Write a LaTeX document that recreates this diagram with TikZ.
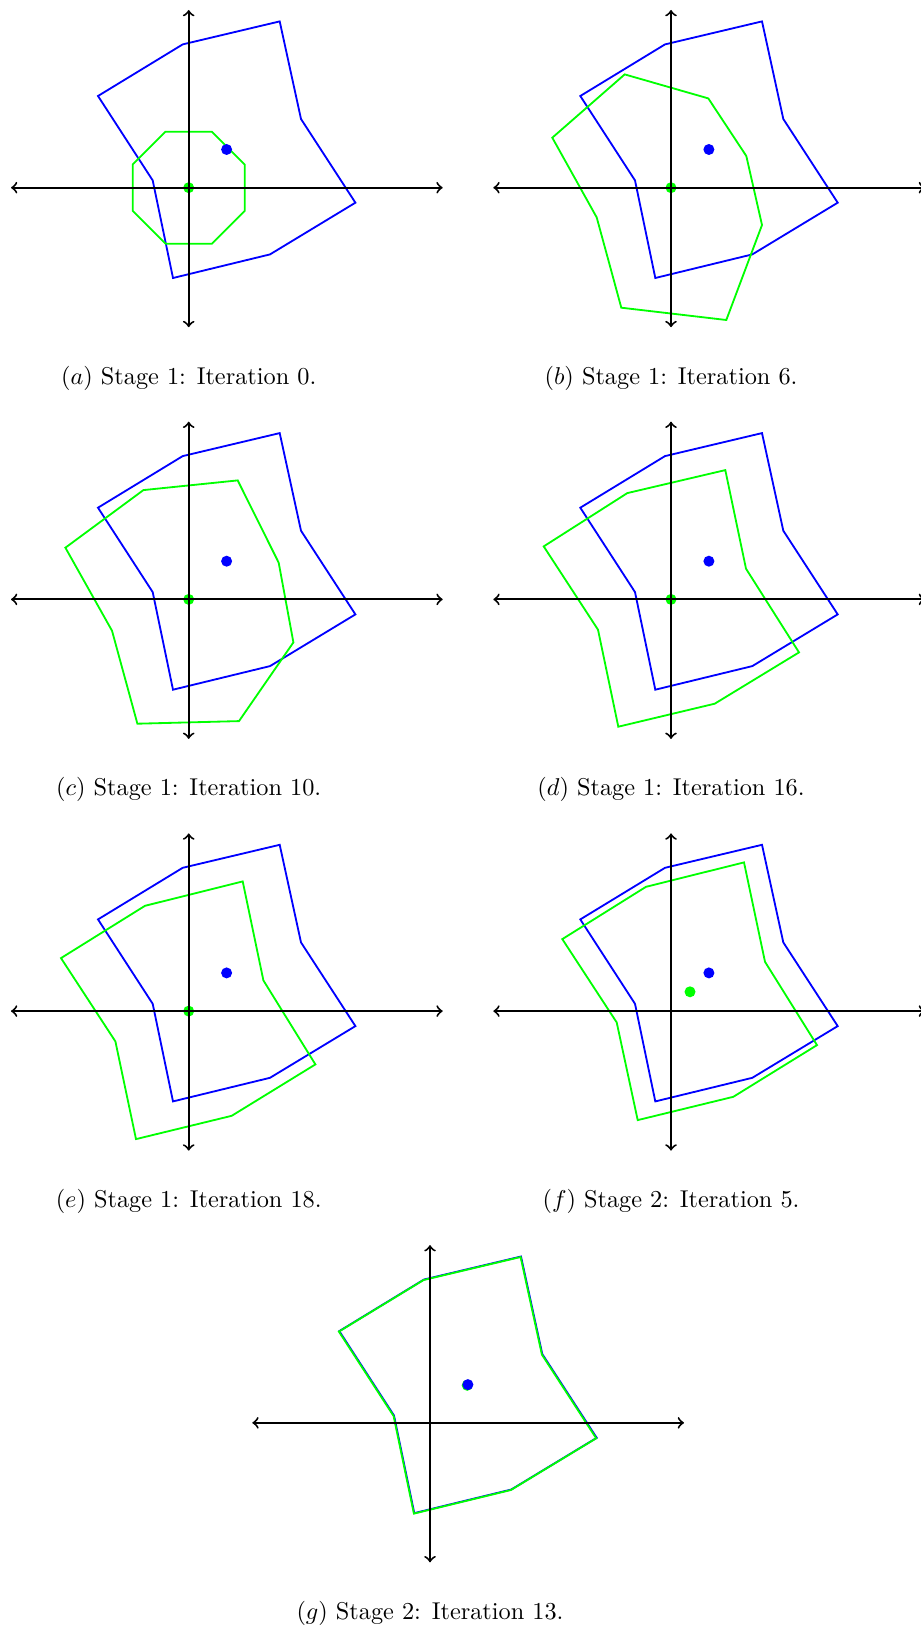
\documentclass[tikz,border=0pt]{standalone}
\newcommand\mypanel[6]{%
  \begin{scope}[shift={(#1,#2)}]
    \draw[bluepoly] (-6,-143.3) -- (91,-166.3) -- (112.3,-68.7) -- (166.7,15) -- (81.3,66.7) -- (-15.7,90.3) -- (-36,-7.3) -- (-90.7,-91.7) -- cycle;
    \draw[greenpoly] #3 -- cycle;
    \fill[green] #4 circle[radius=5.5];
    \fill[blue] (37.9,-38.2) circle[radius=5.5];
    \draw[axisline] (-177.7,0) -- (254,0);
    \draw[axisline] (0,-177.7) -- (0,139.5);
    \node[captext] (#5) at (0,196.3) {#6};
  \end{scope}}
\begin{document}
\begin{tikzpicture}[x=0.41152pt,y=-0.41152pt,
  axisline/.style={line width=0.8pt,<->},
  bluepoly/.style={blue,line width=0.75pt},
  greenpoly/.style={green,line width=0.75pt},
  captext/.style={anchor=base,font=\fontsize{10}{12}\selectfont,inner sep=0pt}]
\fill[white] (0,0) rectangle (920,1630);
\useasboundingbox (0,0) rectangle (920,1630);
% (a)
\mypanel{188.7}{187.7}{(23.2,-56) -- (56,-23.2) -- (56,23.2) -- (23.2,56) -- (-23.2,56) -- (-56,23.2) -- (-56,-23.2) -- (-23.2,-56)}{(0,0)}{capa}{$(a)$ Stage 1: Iteration 0.}
% (b)
\mypanel{671}{187.7}{(-46.3,-113.3) -- (37.3,-89.3) -- (75.3,-31.7) -- (91,37.3) -- (55.3,132.3) -- (-49.7,120) -- (-74.3,29.7) -- (-118.7,-50)}{(0,0)}{capb}{$(b)$ Stage 1: Iteration 6.}
% (c)
\mypanel{188.7}{599.4}{(-45.3,-109.3) -- (49,-119) -- (90,-36.7) -- (104.7,43) -- (50.3,121.7) -- (-51.3,124.3) -- (-76.7,31.3) -- (-123.3,-51.7)}{(0,0)}{capc}{$(c)$ Stage 1: Iteration 10.}
% (d)
\mypanel{671}{599.4}{(-43.7,-106.3) -- (54.3,-129.3) -- (75,-30.7) -- (128,53) -- (43.7,104.3) -- (-52.7,127.3) -- (-73,30.3) -- (-127.3,-53)}{(0,0)}{capd}{$(d)$ Stage 1: Iteration 16.}
% (e)
\mypanel{188.7}{1011.1}{(-43.7,-105.3) -- (54,-129.7) -- (74.7,-30.7) -- (126.7,53.3) -- (43,104.7) -- (-52.7,128) -- (-73.3,30.3) -- (-127.7,-53)}{(0,0)}{cape}{$(e)$ Stage 1: Iteration 18.}
% (f)
\mypanel{671}{1011.1}{(-25,-124.3) -- (73,-148.7) -- (94,-49.3) -- (146,34) -- (62.3,85.7) -- (-33.3,109) -- (-54.3,11.3) -- (-108.7,-72)}{(19,-19.3)}{capf}{$(f)$ Stage 2: Iteration 5.}
% (g)
\mypanel{430}{1422.8}{(-6.4,-142.8) -- (90.6,-165.8) -- (111.9,-68.2) -- (166.2,15.5) -- (80.9,67.2) -- (-16.1,90.8) -- (-36.4,-6.8) -- (-91.1,-91.2)}{(37.2,-37.5)}{capg}{$(g)$ Stage 2: Iteration 13.}
\end{tikzpicture}
\end{document}
